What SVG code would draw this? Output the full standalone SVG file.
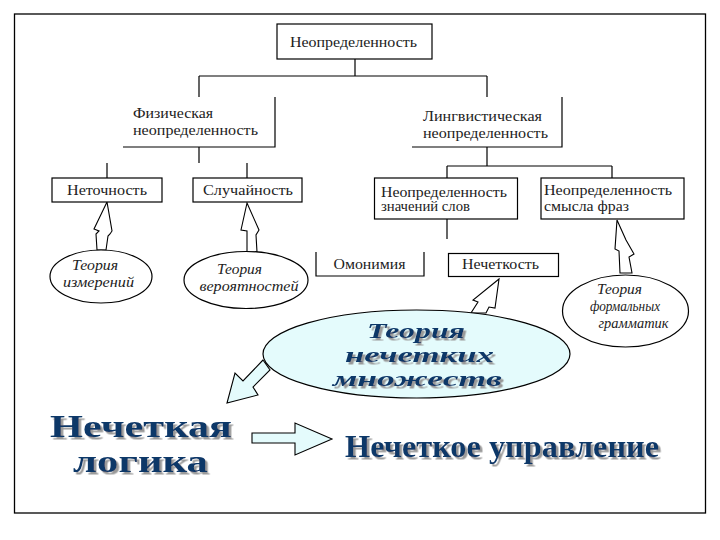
<svg xmlns="http://www.w3.org/2000/svg" width="720" height="540" viewBox="0 0 720 540">
<defs>
<filter id="sh" x="-10%" y="-20%" width="130%" height="160%">
<feDropShadow dx="2.5" dy="2.5" stdDeviation="0.5" flood-color="#9a9a9a" flood-opacity="1"/>
</filter>
</defs>
<style>
.box{fill:#fff;stroke:#000;stroke-width:1.2}
.edge{fill:none;stroke:#000;stroke-width:1.2}
.ln{fill:none;stroke:#000;stroke-width:1.2}
.t{font-family:'Liberation Serif','DejaVu Serif','Times New Roman',serif;font-size:14px;fill:#222}
.it{font-family:'Liberation Serif','DejaVu Serif','Times New Roman',serif;font-size:14px;font-style:italic;fill:#222}
.oval{fill:#fff;stroke:#000;stroke-width:1.2}
.harrow{fill:#fff;stroke:#000;stroke-width:1.1}
.carrow{fill:#e4fbfc;stroke:#000;stroke-width:1.1}
.big{font-family:'Liberation Serif','DejaVu Serif','Times New Roman',serif;font-weight:bold;font-style:italic;font-size:22px;fill:#0d3768;filter:url(#sh)}
.hd{font-family:'Liberation Serif','DejaVu Serif','Times New Roman',serif;font-weight:bold;font-size:32px;fill:#0d3768;filter:url(#sh)}
</style>
<rect x="0" y="0" width="720" height="540" fill="#fff"/>
<rect x="14.5" y="14" width="691" height="499" fill="none" stroke="#000" stroke-width="1.3"/>

<g id="connectors">
<path class="ln" d="M355,59 V76 M199,76 H487 M199,76 V97 M487,76 V97"/>
<path class="ln" d="M199,147 V163 M107,163 V178 M247,163 V178"/>
<path class="ln" d="M487,147 V166 M447,166 H612 M447,166 V178 M612,166 V178"/>
<path class="ln" d="M447,219 V239"/>
<polygon class="harrow" points="107,202 94,229 99,231 96,234 97,250 106,250 108,236 110,234 112,231"/>
<polygon class="harrow" points="247,203 241,230 247,231 247,252 257,252 256,235 259,230"/>
<polygon class="harrow" points="617,220 615,249 619,251 620,273 632,273 629,257 634,254 626,240"/>
<polygon class="harrow" points="499,279 473,300 478,302 471,313 486,313 489,307 495,308"/>
<polygon class="carrow" points="263,360 243,381 235,373 227,403 258,395 253,387 270,370"/>
<polygon class="carrow" points="252,433 295,433 295,423 332,439 295,455 295,443 252,443"/>
</g>

<g id="n_root">
<rect class="box" x="277" y="24" width="155" height="35"/>
<text class="t" x="290" y="47" textLength="127" lengthAdjust="spacingAndGlyphs">Неопределенность</text>
</g>

<g id="n_phys">
<path class="edge" d="M275,97 V147 H123"/>
<text class="t" x="133" y="118" textLength="80" lengthAdjust="spacingAndGlyphs">Физическая</text>
<text class="t" x="133" y="135" textLength="125" lengthAdjust="spacingAndGlyphs">неопределенность</text>
</g>

<g id="n_ling">
<path class="edge" d="M562,97 V147 H412"/>
<text class="t" x="423" y="121" textLength="119" lengthAdjust="spacingAndGlyphs">Лингвистическая</text>
<text class="t" x="423" y="137.5" textLength="125" lengthAdjust="spacingAndGlyphs">неопределенность</text>
</g>

<g id="n_inexact">
<rect class="box" x="52" y="178" width="110" height="24"/>
<text class="t" x="67" y="194.5" textLength="80" lengthAdjust="spacingAndGlyphs">Неточность</text>
</g>

<g id="n_random">
<rect class="box" x="193" y="178" width="109" height="24"/>
<text class="t" x="203" y="194.5" textLength="90" lengthAdjust="spacingAndGlyphs">Случайность</text>
</g>

<g id="n_words">
<rect class="box" x="374.5" y="178" width="143" height="41"/>
<text class="t" x="381" y="196.5" textLength="126" lengthAdjust="spacingAndGlyphs">Неопределенность</text>
<text class="t" x="381" y="211" textLength="89" lengthAdjust="spacingAndGlyphs">значений слов</text>
</g>

<g id="n_phrases">
<rect class="box" x="541" y="178" width="143" height="41"/>
<text class="t" x="544" y="195" textLength="128" lengthAdjust="spacingAndGlyphs">Неопределенность</text>
<text class="t" x="544" y="210.5" textLength="85" lengthAdjust="spacingAndGlyphs">смысла фраз</text>
</g>

<g id="n_homonymy">
<path class="edge" d="M316,252 V276 H424 V252"/>
<text class="t" x="333.5" y="268.5" textLength="72" lengthAdjust="spacingAndGlyphs">Омонимия</text>
</g>

<g id="n_fuzziness">
<rect class="box" x="448.5" y="253.5" width="110" height="23"/>
<text class="t" x="462" y="268.5" textLength="77" lengthAdjust="spacingAndGlyphs">Нечеткость</text>
</g>

<g id="n_measure">
<ellipse class="oval" cx="101" cy="276.5" rx="51" ry="26.5"/>
<text class="it" x="72" y="270" textLength="46" lengthAdjust="spacingAndGlyphs">Теория</text>
<text class="it" x="63" y="286.5" textLength="71" lengthAdjust="spacingAndGlyphs">измерений</text>
</g>

<g id="n_prob">
<ellipse class="oval" cx="246" cy="280" rx="62" ry="28.5"/>
<text class="it" x="217" y="273.5" textLength="45" lengthAdjust="spacingAndGlyphs">Теория</text>
<text class="it" x="199.5" y="290.5" textLength="99" lengthAdjust="spacingAndGlyphs">вероятностей</text>
</g>

<g id="n_grammar">
<ellipse class="oval" cx="625.5" cy="311" rx="63" ry="36"/>
<text class="it" x="597" y="294" textLength="45" lengthAdjust="spacingAndGlyphs">Теория</text>
<text class="it" x="590" y="311" textLength="70" lengthAdjust="spacingAndGlyphs">формальных</text>
<text class="it" x="598.5" y="327.5" textLength="70" lengthAdjust="spacingAndGlyphs">грамматик</text>
</g>

<g id="n_fuzzysets">
<ellipse cx="416.5" cy="354" rx="153.5" ry="44" fill="#e4fbfc" stroke="#000" stroke-width="1.2"/>
<text class="big" x="367" y="338" textLength="98" lengthAdjust="spacingAndGlyphs">Теория</text>
<text class="big" x="345" y="362" textLength="149" lengthAdjust="spacingAndGlyphs">нечетких</text>
<text class="big" x="333" y="386" textLength="169" lengthAdjust="spacingAndGlyphs">множеств</text>
</g>

<g id="n_logic">
<text class="hd" x="50" y="437" textLength="182" lengthAdjust="spacingAndGlyphs">Нечеткая</text>
<text class="hd" x="73" y="472" textLength="135" lengthAdjust="spacingAndGlyphs">логика</text>
</g>

<g id="n_control">
<text class="hd" x="345" y="457" textLength="314" lengthAdjust="spacingAndGlyphs">Нечеткое управление</text>
</g>
</svg>
